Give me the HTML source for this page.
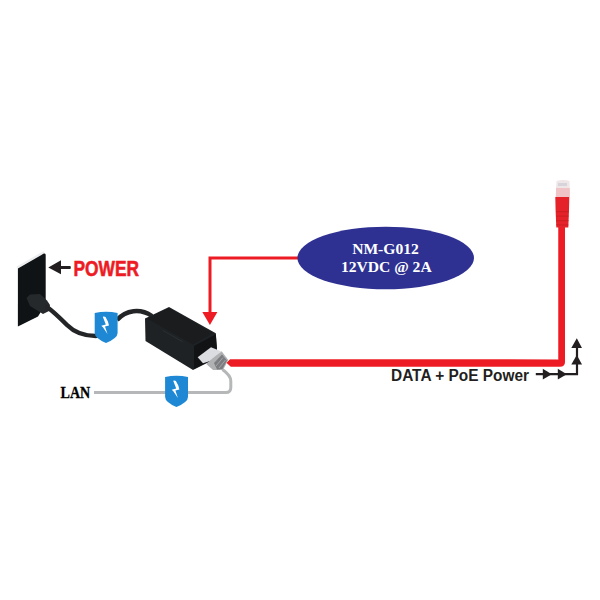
<!DOCTYPE html>
<html><head><meta charset="utf-8">
<style>
html,body{margin:0;padding:0;background:#fff;}
body{width:600px;height:600px;overflow:hidden;}
svg{display:block;}
</style></head>
<body>
<svg width="600" height="600" viewBox="0 0 600 600">
<rect width="600" height="600" fill="#fff"/>

<!-- wall plate -->
<path d="M17,267.5 L44,252" stroke="#dcdde0" stroke-width="2" opacity="0.55"/>
<path d="M17.9,268.6 L43.8,253.6 Q45.7,252.8 45.7,255 L45.7,304 L38,316.5 L17.9,326.6 Z" fill="#0f1316"/>
<!-- plug -->
<polygon points="26.5,298 30,294.5 40,294 47,300.5 50,305 49,311 43,314 30,306" fill="#26292b"/>
<!-- power cord -->
<path d="M47,307 C54,312 61,319 67,325 C75,333 84,336 96,336" fill="none" stroke="#232527" stroke-width="4.5" stroke-linecap="round"/>
<path d="M117,320 C126,310 140,308 152,316" fill="none" stroke="#232527" stroke-width="4.5"/>

<!-- POWER arrow -->
<polygon points="48.3,267.4 61,260.3 61,274.3" fill="#231f20"/>
<rect x="60" y="266.1" width="10.8" height="2.8" rx="1" fill="#231f20"/>
<text x="73.5" y="276.2" font-family="Liberation Sans" font-weight="bold" font-size="22" fill="#ed1c24" stroke="#ed1c24" stroke-width="0.6" textLength="65.5" lengthAdjust="spacingAndGlyphs">POWER</text>

<!-- gray LAN cable -->
<path d="M94,392.6 L226,392.6 Q230.8,392.6 230.8,387.5 L230.8,381 Q230.8,375.5 222.5,369.5" fill="none" stroke="#b6b7b9" stroke-width="3"/>
<text x="60.5" y="398.2" font-family="Liberation Serif" font-weight="bold" font-size="17" fill="#000" stroke="#000" stroke-width="0.35" textLength="29.7" lengthAdjust="spacingAndGlyphs">LAN</text>

<!-- injector box -->
<polygon points="145,318.5 169,307 215.8,333.3 217,347.5 217,358 193,370 145.5,341" fill="#1f2225"/>
<polygon points="147,318.5 169,308 213,333.3 193,344.5" fill="#1a1c1e"/>
<polygon points="194,346 215.8,334.3 216.5,347.5 216.5,357.5 194,369" fill="#111315"/>
<path d="M163,330.5 L183,342" stroke="#3a3d40" stroke-width="0.8" opacity="0.6"/>
<!-- plugs -->
<polygon points="197.7,357.3 211,347.3 221,351.3 213,360 203,363.3" fill="#dcdde0"/>
<polygon points="206.3,364 213,358 221.7,351.3 228.3,360 223,370 213,370" fill="#b0b1b3"/>
<polygon points="214,363 222,354.5 227,360.5 222.5,369 217,369.5" fill="#7c7d80"/>
<path d="M216,366 L223,357.5 M219,368 L225.5,360" stroke="#a8a9ab" stroke-width="0.9"/>

<!-- red L from ellipse -->
<path d="M298,258 L210,258 L210,313" fill="none" stroke="#ed1c24" stroke-width="3"/>
<polygon points="202.3,312 217.4,312 209.9,325" fill="#ed1c24"/>

<!-- ellipse -->
<ellipse cx="385.7" cy="258" rx="88.3" ry="31.3" fill="#2e3192"/>
<text x="385.5" y="254.3" text-anchor="middle" font-family="Liberation Serif" font-weight="bold" font-size="15.6" fill="#fff">NM-G012</text>
<text x="386.3" y="272" text-anchor="middle" font-family="Liberation Serif" font-weight="bold" font-size="15.6" fill="#fff">12VDC @ 2A</text>

<!-- red data cable -->
<path d="M226.7,363 L230,359.5 L561,359.5 Q565,359.5 565,355 L565,227 L558.5,227 L558.5,359.5" fill="#ed1c24"/>
<path d="M226.7,363 L230,359.5 L558.5,359.5 L558.5,227 L565,227 L565,362 Q565,366.7 560,366.7 L230.8,366.7 Z" fill="#ed1c24"/>
<!-- connector boot -->
<path d="M555.3,197 L569.3,197 L569,210 L568.3,227.5 L556.3,227.5 L555.6,210 Z" fill="#e5222a"/>
<g fill="#c81c22" opacity="0.7">
<rect x="556" y="211" width="12.6" height="1.2"/>
<rect x="556" y="215.5" width="12.4" height="1.2"/>
<rect x="556.2" y="220" width="12.2" height="1.2"/>
<rect x="556.3" y="224.3" width="12" height="1.2"/>
</g>
<path d="M556.5,181 Q563,179 569.5,181 L570,197 L555.5,197 Z" fill="#efe6e8"/>
<rect x="556" y="188" width="13.8" height="9" fill="#f0c4c6"/>
<rect x="558" y="183" width="9" height="3" fill="#d8d4dc"/>

<!-- DATA + PoE Power -->
<text x="391" y="380.5" font-family="Liberation Sans" font-weight="bold" font-size="16" fill="#231f20" textLength="138" lengthAdjust="spacingAndGlyphs">DATA + PoE Power</text>

<!-- black arrow path -->
<path d="M535.8,374.2 L577,374.2 L577,345" fill="none" stroke="#231f20" stroke-width="2.2"/>
<polygon points="542.8,368.8 542.8,379.6 551.8,374.2" fill="#231f20"/>
<polygon points="557.8,368.8 557.8,379.6 566.8,374.2" fill="#231f20"/>
<polygon points="571.3,348 582,348 576.8,338.3" fill="#231f20"/>
<polygon points="571.3,364.6 582,364.6 576.8,355" fill="#231f20"/>

<!-- shields -->
<g id="sh2">
<path d="M165.1,377.1 Q176.5,374.5 188,377.1 L188,397 Q188,402 176.4,407.1 Q165.1,402 165.1,397 Z" fill="#1e88d4"/>
<path d="M173.2,380.8 Q174.6,380.3 175.9,381 L178.3,385.5 L179.4,389.4 L175.4,390.6 L177.9,397.9 L173.3,391.2 L171.7,389.7 L176.2,388.4 Z" fill="#fff"/>
</g>
<use href="#sh2" transform="translate(-70.4,-64)"/>

</svg>
</body></html>
